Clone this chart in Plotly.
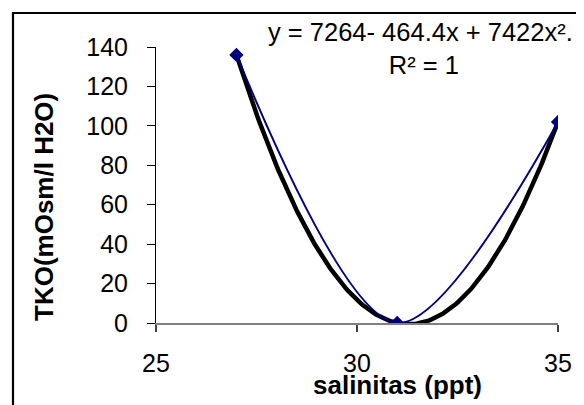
import numpy as np
import plotly.graph_objects as go

# Data
salinity = [27, 31, 35]
tko = [136, 0, 102]
x_ticks = [25, 30, 35]
y_ticks = [0, 20, 40, 60, 80, 100, 120, 140]
eq_text = "y = 7264- 464.4x + 7422x². <br>R² = 1"
x_title = "salinitas (ppt)"
y_title = "TKO(mOsm/l H2O)"

OFF = 8  # default page margin of the html body
W, H = 584 - OFF, 405 - OFF
L, T = 156 - OFF, 47 - OFF
R = W - (558 - OFF)
B = H - (323 - OFF)
pw, ph = W - L - R, H - T - B

def px(xp):
    return (xp - OFF - L) / pw

def py(yp):
    return (H - B - (yp - OFF)) / ph

# polynomial (order 2) trendline fitted to the data
coef = np.polyfit(salinity, tko, 2)
xt = np.linspace(min(salinity), max(salinity), 200)
yt = np.polyval(coef, xt)

FONT = "Liberation Sans, Arial, sans-serif"

fig = go.Figure()
fig.add_trace(go.Scatter(x=xt, y=yt, mode="lines",
                         line=dict(color="black", width=4.5), hoverinfo="skip"))
fig.add_trace(go.Scatter(x=salinity, y=tko, mode="lines+markers",
                         line=dict(color="#000080", width=2, shape="spline", smoothing=0.9),
                         marker=dict(symbol="diamond", size=11, color="#000080")))

fig.update_layout(
    width=W, height=H, showlegend=False,
    margin=dict(l=L, r=R, t=T, b=B, pad=0),
    paper_bgcolor="white", plot_bgcolor="white",
    font=dict(family=FONT, size=25, color="black"),
    xaxis=dict(range=[25, 35], tickvals=x_ticks, ticks="outside", ticklen=7,
               tickcolor="#404040", tickwidth=1.5, showline=True, linecolor="#808080",
               linewidth=1.5, showgrid=False, zeroline=False, ticklabelstandoff=10,
               tickfont=dict(size=25)),
    yaxis=dict(range=[0, 140], tickvals=y_ticks, ticks="outside", ticklen=8,
               tickcolor="black", tickwidth=1, showline=True, linecolor="black",
               linewidth=1, showgrid=False, zeroline=False, ticklabelstandoff=14,
               tickfont=dict(size=25)),
    shapes=[dict(type="rect", xref="paper", yref="paper",
                 x0=px(13), x1=px(640), y0=py(460), y1=py(13),
                 line=dict(color="black", width=2.2), fillcolor="rgba(0,0,0,0)")],
    annotations=[
        dict(text=eq_text, xref="paper", yref="paper", x=px(424), y=py(48),
             xanchor="center", yanchor="middle", showarrow=False, align="center",
             font=dict(size=25.5)),
        dict(text="<b>" + x_title + "</b>", xref="paper", yref="paper",
             x=px(397), y=py(385), xanchor="center", yanchor="middle",
             showarrow=False, font=dict(size=26)),
        dict(text="<b>" + y_title + "</b>", xref="paper", yref="paper",
             x=px(44), y=py(207), xanchor="center", yanchor="middle",
             showarrow=False, textangle=-90, font=dict(size=26)),
    ],
)

fig.write_html("out.html")
